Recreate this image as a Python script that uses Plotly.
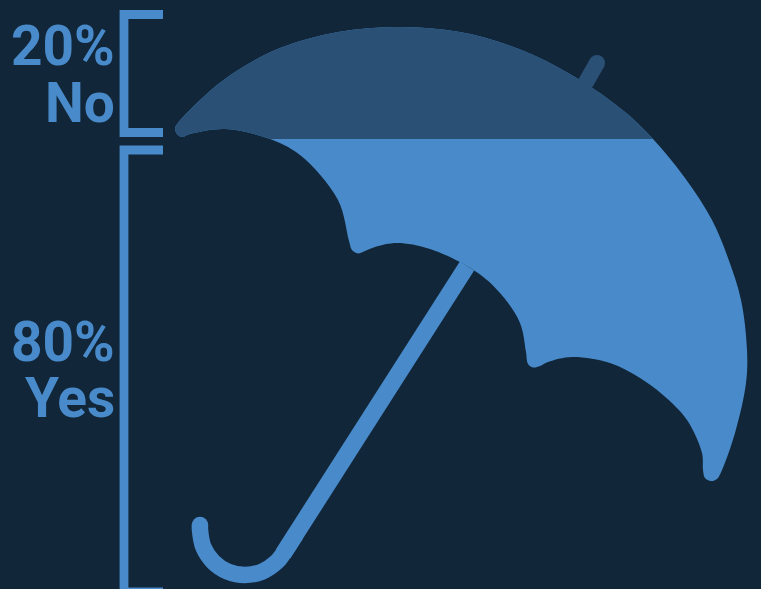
import plotly.graph_objects as go

BG = "#122639"
LIGHT = "#498bca"
DARK = "#2a5075"
W, H = 761, 589
SPLIT = 139

canopy_x = [175, 178, 183, 217, 248, 280, 338, 399, 460, 519, 575, 625, 653, 685, 712, 728, 741, 747, 746, 735, 722, 717, 711, 705, 703, 702, 687, 663, 640, 610, 572, 548, 540, 533, 528, 526, 520, 500, 475, 430, 397, 375, 365, 358, 352, 349, 338, 300, 267, 225, 190, 182, 177, 175]
canopy_y = [128, 123, 117, 85, 64, 48, 32, 27, 32, 49, 77, 112, 139, 178, 220, 258, 300, 350, 383, 433, 470, 479, 481, 478, 470, 453, 420, 395, 378, 363, 357, 362, 366, 367.5, 364, 352, 323, 293, 271, 249, 243, 247, 251, 253.5, 250, 241, 200, 155, 138, 129, 134, 137, 134, 128]

hook_x = [200, 200, 203.4, 213.2, 227.8, 245, 262.2, 276.8, 283, 296]
hook_y = [525, 530, 547.2, 561.8, 571.6, 575, 571.6, 561.8, 554, 534]
stem_x = [283, 467]
stem_y = [554, 266]
ferrule_x = [597, 585]
ferrule_y = [63, 84]

bracket_no_x = [163, 124, 124, 163]
bracket_no_y = [14.5, 14.5, 132.5, 132.5]
bracket_yes_x = [163, 124, 124, 163]
bracket_yes_y = [150, 150, 592, 592]

labels = ["20%", "No", "80%", "Yes"]
label_x = [114.5, 114.5, 114.5, 114.5]
label_y = [46, 103, 342, 398]

fig = go.Figure()
fig.add_trace(go.Scatter(x=canopy_x, y=canopy_y, mode="lines", fill="toself", fillcolor=LIGHT,
                         line=dict(color=LIGHT, width=0, shape="spline", smoothing=1), hoverinfo="skip"))
fig.add_trace(go.Scatter(x=hook_x, y=hook_y, mode="lines", line=dict(color=LIGHT, width=16.5, shape="spline", smoothing=1), hoverinfo="skip"))
fig.add_trace(go.Scatter(x=stem_x, y=stem_y, mode="lines", line=dict(color=LIGHT, width=17), hoverinfo="skip"))
fig.add_trace(go.Scatter(x=hook_x[:1], y=hook_y[:1], mode="markers", marker=dict(color=LIGHT, size=16.5, line_width=0), hoverinfo="skip"))
for bx, by in ((bracket_no_x, bracket_no_y), (bracket_yes_x, bracket_yes_y)):
    fig.add_trace(go.Scatter(x=bx, y=by, mode="lines", line=dict(color=LIGHT, width=8.8), hoverinfo="skip"))

# Same canopy outline, clipped to the band above the split by a second y axis
fig.add_trace(go.Scatter(x=canopy_x, y=canopy_y, yaxis="y2", mode="lines", fill="toself", fillcolor=DARK,
                         line=dict(color=DARK, width=0, shape="spline", smoothing=1), hoverinfo="skip"))
fig.add_trace(go.Scatter(x=ferrule_x, y=ferrule_y, yaxis="y2", mode="lines", line=dict(color=DARK, width=16), hoverinfo="skip"))
fig.add_trace(go.Scatter(x=ferrule_x[:1], y=ferrule_y[:1], yaxis="y2", mode="markers",
                         marker=dict(color=DARK, size=16, line_width=0), hoverinfo="skip"))

for t, x, y in zip(labels, label_x, label_y):
    fig.add_annotation(x=x, y=y, text=t, showarrow=False, xanchor="right", yanchor="middle",
                       font=dict(family="Roboto", size=55, color=LIGHT, weight=700),
                       height=52, valign="middle", borderpad=0, borderwidth=0)

axis = dict(visible=False, showgrid=False, zeroline=False, fixedrange=True)
fig.update_layout(
    width=W, height=H, margin=dict(l=0, r=0, t=0, b=0), showlegend=False,
    paper_bgcolor=BG, plot_bgcolor="rgba(0,0,0,0)",
    xaxis=dict(range=[0, W], **axis),
    yaxis=dict(range=[H, 0], domain=[0, 1], **axis),
    yaxis2=dict(range=[SPLIT, 0], domain=[1 - SPLIT / H, 1], anchor="x", **axis),
)
fig.write_html("out.html", config=dict(displayModeBar=False),
               post_script=f'document.body.style.margin="0";document.body.style.background="{BG}";document.body.style.overflow="hidden";')
